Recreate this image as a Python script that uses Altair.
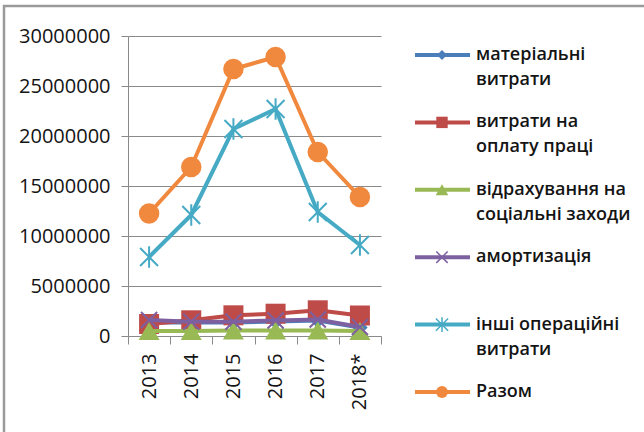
import altair as alt
import pandas as pd

# Operating costs by element, UAH
years = ["2013", "2014", "2015", "2016", "2017", "2018*"]
names = [
    "матеріальні\nвитрати",
    "витрати на\nоплату праці",
    "відрахування на\nсоціальні заходи",
    "амортизація",
    "інші операційні\nвитрати",
    "Разом",
]
material = [1350000, 1350000, 1350000, 1450000, 1550000, 850000]
labour = [1200000, 1570000, 2070000, 2230000, 2570000, 2050000]
social = [500000, 500000, 550000, 550000, 550000, 500000]
depreciation = [1600000, 1430000, 1430000, 1550000, 1650000, 900000]
other = [7900000, 12100000, 20700000, 22700000, 12400000, 9100000]
total = [12250000, 16900000, 26700000, 27900000, 18400000, 13900000]
series_values = [material, labour, social, depreciation, other, total]

FONT = "Open Sans"
TEXT = "#141414"
GRID = "#8a8a8a"

X_MARK = "M-1,-1L1,1M-1,1L1,-1"
STAR_MARK = "M-1,-1L1,1M-1,1L1,-1M0,-1.2L0,1.2"

# colour, marker shape, filled, marker size in plot, marker size in legend
styles = [
    ("#4A7EBB", "diamond", True, 240, 100),
    ("#BE4B48", "square", True, 400, 130),
    ("#98B954", "triangle-up", True, 440, 160),
    ("#7D60A0", X_MARK, False, 260, 130),
    ("#46AAC5", STAR_MARK, False, 320, 150),
    ("#F0893E", "circle", True, 420, 140),
]

W, H = 253, 300
LEFT, TOP = 128, 36

x_enc = alt.X(
    "year:N",
    sort=years,
    scale=alt.Scale(type="band", paddingInner=0, paddingOuter=0),
    axis=alt.Axis(
        title=None,
        labelAngle=-90,
        labelFont=FONT,
        labelFontSize=20,
        labelColor=TEXT,
        labelPadding=9,
        tickBand="extent",
        tickSize=8,
        tickColor=GRID,
        domainColor=GRID,
        grid=False,
    ),
)
y_enc = alt.Y(
    "value:Q",
    scale=alt.Scale(domain=[0, 30000000]),
    axis=alt.Axis(
        title=None,
        values=[0, 5000000, 10000000, 15000000, 20000000, 25000000, 30000000],
        format="d",
        labelFont=FONT,
        labelFontSize=20,
        labelColor=TEXT,
        labelPadding=11,
        tickSize=7,
        tickColor=GRID,
        domainColor=GRID,
        gridColor=GRID,
    ),
)

layers = []

# outer frame
frame = alt.Chart(pd.DataFrame({"k": [0]})).mark_rect(
    fill=None, stroke="#9a9a9a", strokeWidth=2.5
).encode(
    x=alt.value(4 - LEFT),
    x2=alt.value(644 - LEFT + 20),
    y=alt.value(6 - TOP),
    y2=alt.value(432 - TOP + 20),
)
layers.append(frame)

for i, (vals, (color, shape, filled, size, _)) in enumerate(zip(series_values, styles)):
    df = pd.DataFrame({"year": years, "value": vals})
    base = alt.Chart(df).encode(x=x_enc, y=y_enc)
    layers.append(base.mark_line(color=color, strokeWidth=4))
    if filled:
        pts = base.mark_point(shape=shape, filled=True, color=color, size=size, opacity=1)
    else:
        pts = base.mark_point(shape=shape, filled=False, color=color, size=size,
                              strokeWidth=2, opacity=1)
    layers.append(pts)

# legend
for i, (name, (color, shape, filled, _, lsize)) in enumerate(zip(names, styles)):
    ly = 19 + 67.4 * i
    ldf = pd.DataFrame({"label": [name]})
    lb = alt.Chart(ldf)
    layers.append(
        lb.mark_rule(color=color, strokeWidth=4).encode(
            x=alt.value(415 - LEFT), x2=alt.value(470 - LEFT), y=alt.value(ly)
        )
    )
    if filled:
        m = lb.mark_point(shape=shape, filled=True, color=color, size=lsize, opacity=1)
    else:
        m = lb.mark_point(shape=shape, filled=False, color=color, size=lsize,
                          strokeWidth=1.5, opacity=1)
    layers.append(m.encode(x=alt.value(442 - LEFT), y=alt.value(ly)))
    layers.append(
        lb.mark_text(
            align="left", baseline="line-top", lineBreak="\n", lineHeight=25,
            font=FONT, fontSize=18, fontWeight=600, color=TEXT, dy=-13,
        ).encode(x=alt.value(476 - LEFT), y=alt.value(ly), text="label:N")
    )

chart = alt.layer(*layers).properties(
    width=W,
    height=H,
    autosize=alt.AutoSizeParams(type="none"),
    padding={"left": LEFT, "top": TOP, "right": 644 - LEFT - W, "bottom": 432 - TOP - H},
    background="white",
).configure_view(stroke=None)

chart.save("out.html", embed_options={"renderer": "svg", "actions": False})
